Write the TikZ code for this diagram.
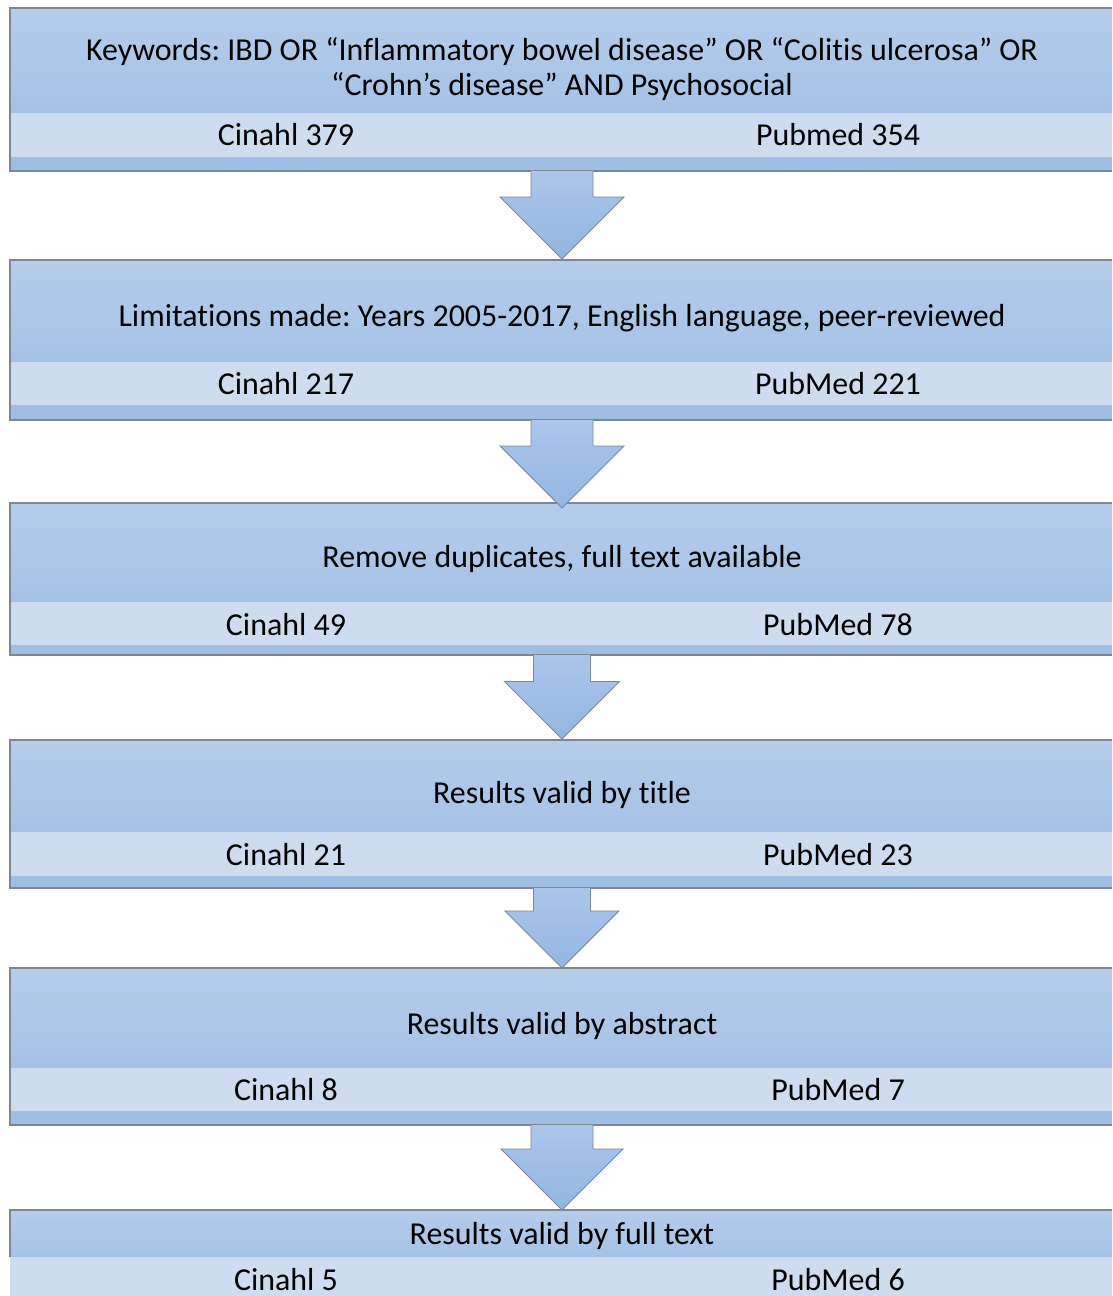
\documentclass[tikz,border=0pt]{standalone}
\usepackage{fontspec}
\setmainfont[Ligatures=NoCommon]{Carlito}
\usetikzlibrary{calc}
\definecolor{boxtop}{HTML}{B3CDEA}
\definecolor{boxbot}{HTML}{A5C2E6}
\definecolor{bandcol}{HTML}{CDDCEE}
\definecolor{stripcol}{HTML}{9EBEE3}
\definecolor{edgecol}{HTML}{7D8896}
\definecolor{arrtop}{HTML}{AAC6EA}
\definecolor{arrbot}{HTML}{93B6E2}
\frenchspacing
\begin{document}
\begin{tikzpicture}[x=0.025cm,y=-0.025cm,
    edge/.style={draw=edgecol,line width=0.8pt},
    txt/.style={font=\fontsize{22.7}{25}\selectfont,inner sep=0pt,align=center},
    blockarrow/.style={top color=arrtop,bottom color=arrbot,draw=edgecol,line width=0.6pt,line join=miter}]
\useasboundingbox (0,0) rectangle (1112,1296);
%\draw [help lines,step=100](0,0) grid (1112,1296);
% boxes: top / band top / band bottom / bottom
\foreach \t/\b/\c/\d in {8/113/157/171,260/362/405/420,503/602/645/655,740/832/876/888,968/1068/1111/1125}{
  \shade [top color=boxtop,bottom color=boxbot] (10,\t) rectangle (1112,\b);
  \fill [bandcol] (10,\b) rectangle (1112,\c);
  \fill [stripcol] (10,\c) rectangle (1112,\d);
  \draw [edge] (1112,\t) -- (10,\t) -- (10,\d) -- (1112,\d);
}
\shade [top color=boxtop,bottom color=boxbot] (10,1210) rectangle (1112,1257);
\fill [bandcol] (10,1257) rectangle (1112,1296);
\draw [edge] (1112,1210) -- (10,1210) -- (10,1257);
% texts
\node [txt] (kw) at (562,69) {Keywords: IBD OR “Inflammatory bowel disease” OR “Colitis ulcerosa” OR\\“Crohn’s disease” AND Psychosocial};
\node [txt] (cin1) at (286,135) {Cinahl 379};
\node [txt] (pub1) at (838,135) {Pubmed 354};
\node [txt] (lim) at (562,318) {Limitations made: Years 2005-2017, English language, peer-reviewed};
\node [txt] (cin2) at (286,384) {Cinahl 217};
\node [txt] (pub2) at (838,384) {PubMed 221};
\node [txt] (dup) at (562,559) {Remove duplicates, full text available};
\node [txt] (cin3) at (286,625) {Cinahl 49};
\node [txt] (pub3) at (838,625) {PubMed 78};
\node [txt] (tit) at (562,795) {Results valid by title};
\node [txt] (cin4) at (286,855) {Cinahl 21};
\node [txt] (pub4) at (838,855) {PubMed 23};
\node [txt] (abs) at (562,1026) {Results valid by abstract};
\node [txt] (cin5) at (286,1090) {Cinahl 8};
\node [txt] (pub5) at (838,1090) {PubMed 7};
\node [txt] (ful) at (562,1236) {Results valid by full text};
\node [txt] (cin6) at (286,1280) {Cinahl 5};
\node [txt] (pub6) at (838,1280) {PubMed 6};
% arrow ends
\coordinate (s1) at (562,171);
\coordinate (n2) at (562,259);
\coordinate (s2) at (562,420);
\coordinate (n3) at (562,508);
\coordinate (s3) at (562,655);
\coordinate (n4) at (562,739);
\coordinate (s4) at (562,888);
\coordinate (n5) at (562,968);
\coordinate (s5) at (562,1125);
\coordinate (n6) at (562,1210);
% block arrows: from / to / shaft half width / head half width
\foreach \a/\b/\w/\h in {s1/n2/31/62,s2/n3/31/62,s3/n4/28.5/57.5,s4/n5/28.5/57,s5/n6/31/61}{
  \path [blockarrow] ($(\a)+(-\w,0)$) -- ($(\b)+(-\w,-\h)$) -- ($(\b)+(-\h,-\h)$)
    -- (\b) -- ($(\b)+(\h,-\h)$) -- ($(\b)+(\w,-\h)$) -- ($(\a)+(\w,0)$);
}
\end{tikzpicture}
\end{document}
